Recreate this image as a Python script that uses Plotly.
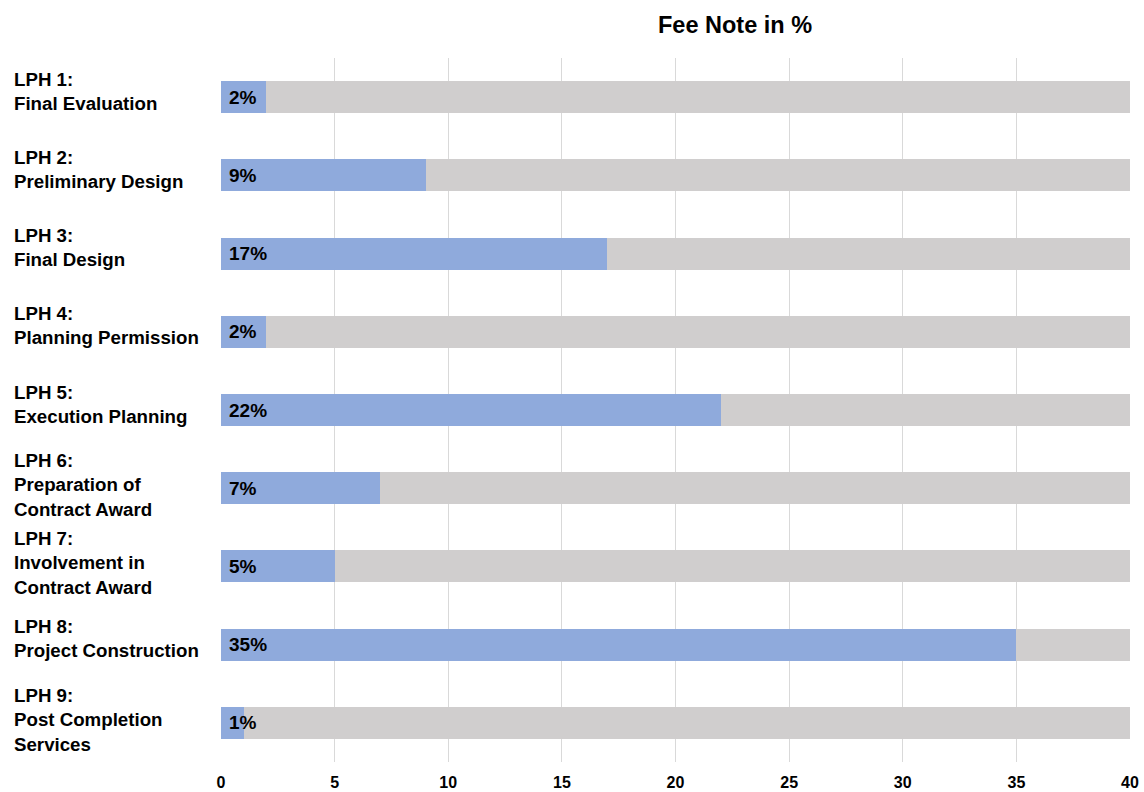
import plotly.graph_objects as go

phases = ["LPH 1:<br>Final Evaluation", "LPH 2:<br>Preliminary Design", "LPH 3:<br>Final Design",
          "LPH 4:<br>Planning Permission", "LPH 5:<br>Execution Planning",
          "LPH 6:<br>Preparation of<br>Contract Award", "LPH 7:<br>Involvement in<br>Contract Award",
          "LPH 8:<br>Project Construction", "LPH 9:<br>Post Completion<br>Services"]
fee_pct = [2, 9, 17, 2, 22, 7, 5, 35, 1]
axis_max = 40
tick_vals = [0, 5, 10, 15, 20, 25, 30, 35, 40]

BLUE = "#8FAADC"
GREY = "#D0CECE"
FONT = "Liberation Sans, Arial, sans-serif"

ypos = list(range(len(phases)))

fig = go.Figure()
fig.add_trace(go.Bar(y=ypos, x=[axis_max] * len(phases), orientation="h", marker=dict(color=GREY, line_width=0),
                     width=0.41, hoverinfo="skip", showlegend=False))
fig.add_trace(go.Bar(y=ypos, x=fee_pct, orientation="h", marker=dict(color=BLUE, line_width=0),
                     width=0.41, showlegend=False))

annotations = []
for i, (lab, v) in enumerate(zip(phases, fee_pct)):
    nlines = lab.count("<br>") + 1
    annotations.append(dict(x=-0.2295, xref="paper", y=i, yref="y", text="<b>%s</b>" % lab,
                            showarrow=False, xanchor="left", yanchor="middle", align="left",
                            yshift=6 if nlines == 2 else 3,
                            font=dict(family=FONT, size=18.7, color="#000000")))
    annotations.append(dict(x=0, xref="x", y=i, yref="y", text="<b>%d%%</b>" % v, showarrow=False,
                            xanchor="left", yanchor="middle", xshift=6,
                            font=dict(family=FONT, size=19, color="#000000")))

fig.update_layout(
    width=1144, height=792,
    margin=dict(l=221, r=14, t=58, b=30),
    plot_bgcolor="white", paper_bgcolor="white",
    barmode="overlay",
    bargap=0,
    title=dict(text="<b>Fee Note in %</b>", x=735 / 1144, xanchor="center", xref="container",
               y=1 - 25 / 792, yanchor="middle", yref="container",
               font=dict(family=FONT, size=23.5, color="#000000")),
    xaxis=dict(range=[0, axis_max], tickvals=tick_vals, showgrid=True, gridcolor="#D9D9D9", gridwidth=1,
               zeroline=False, showline=False, ticks="", automargin=False,
               tickfont=dict(family=FONT, size=16, color="#000000", weight="bold"), ticklabelstandoff=9),
    yaxis=dict(range=[len(phases) - 0.5, -0.5], showticklabels=False, showgrid=False, zeroline=False,
               showline=False, ticks="", automargin=False),
    annotations=annotations,
)

fig.write_html("out.html")
